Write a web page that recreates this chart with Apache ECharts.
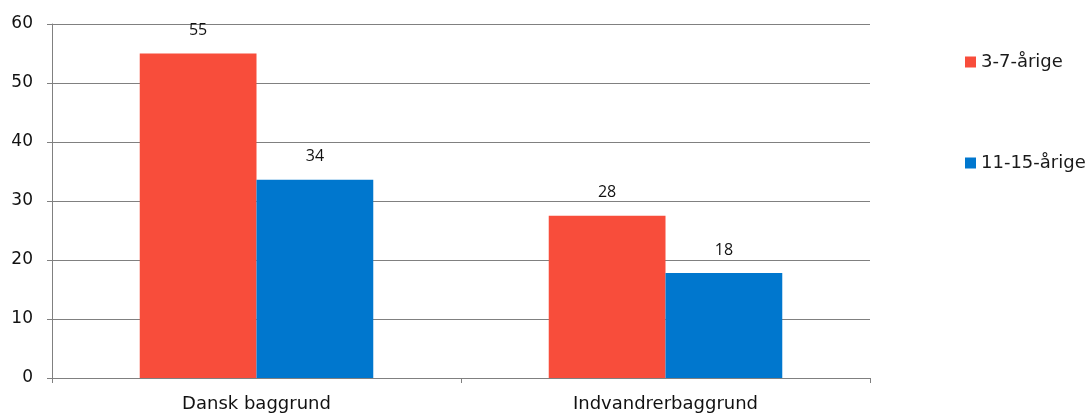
<!DOCTYPE html>
<html>
<head>
<meta charset="utf-8">
<script src="https://cdn.jsdelivr.net/npm/echarts@6/dist/echarts.min.js"></script>
<style>html,body{margin:0;padding:0;background:#fff;}#c{width:1091px;height:415px;}</style>
</head>
<body>
<div id="c"></div>
<script>
const categories = ['Dansk baggrund', 'Indvandrerbaggrund'];
const seriesNames = ['3-7-årige', '11-15-årige'];
const valuesYoung = [55, 27.5];   // 3-7-årige
const valuesOld = [33.6, 17.8];   // 11-15-årige
const yTicks = [0, 10, 20, 30, 40, 50, 60];

const axisGray = '#808080';
const chart = echarts.init(document.getElementById('c'), null, {renderer: 'canvas'});
const labelStyle = {
  show: true, position: 'top', distance: 15,
  fontFamily: 'Open Sans', fontSize: 16, color: '#111',
  formatter: p => Math.round(p.value)
};
chart.setOption({
  animation: false,
  backgroundColor: '#fff',
  grid: {left: 52, right: 221, top: 24, bottom: 37, containLabel: false},
  legend: {
    orient: 'vertical', left: 965, top: 53, padding: 0,
    itemWidth: 11, itemHeight: 11, itemGap: 83,
    icon: 'rect',
    textStyle: {fontFamily: 'DejaVu Sans', fontSize: 18, color: '#1a1a1a'},
    data: seriesNames
  },
  xAxis: {
    type: 'category', data: categories,
    axisLine: {show: true, lineStyle: {color: axisGray, width: 1}},
    axisTick: {show: true, length: 5, lineStyle: {color: axisGray, width: 1}},
    axisLabel: {fontFamily: 'DejaVu Sans', fontSize: 18, color: '#111', margin: 17}
  },
  yAxis: {
    type: 'value', min: yTicks[0], max: yTicks[yTicks.length - 1], interval: 10,
    axisLine: {show: true, lineStyle: {color: axisGray, width: 1}},
    axisTick: {show: true, length: 5, lineStyle: {color: axisGray, width: 1}},
    axisLabel: {fontFamily: 'DejaVu Sans', fontSize: 17, color: '#111', margin: 19},
    splitLine: {show: true, lineStyle: {color: axisGray, width: 1}}
  },
  series: [
    {name: seriesNames[0], type: 'bar', data: valuesYoung, barGap: '0%', barCategoryGap: '42.9%',
     itemStyle: {color: '#F84D3B'}, label: labelStyle},
    {name: seriesNames[1], type: 'bar', data: valuesOld, barGap: '0%', barCategoryGap: '42.9%',
     itemStyle: {color: '#0077CE'}, label: labelStyle}
  ]
});
</script>
</body>
</html>
